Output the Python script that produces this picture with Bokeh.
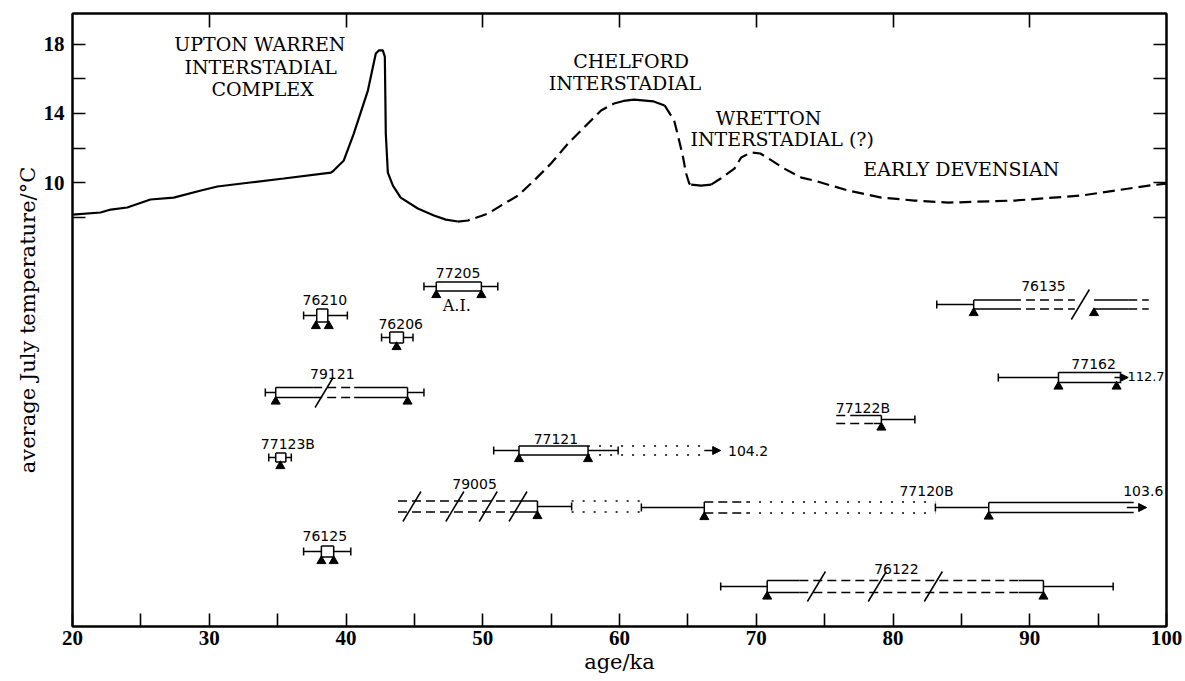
from bokeh.plotting import figure
from bokeh.models import Range1d, LinearAxis, FixedTicker, Arrow, NormalHead
from bokeh.core.properties import value
from bokeh.embed import file_html
from bokeh.resources import INLINE

# ---------------- temperature curve (age / ka, average July temperature / degC) -------------
upton_age = [20.0, 22.05, 22.8, 24.0, 25.7, 27.4, 29.4, 30.6, 33.0, 35.45, 38.9, 39.1, 39.84,
             40.57, 41.6, 42.18, 42.4, 42.69, 42.84, 42.91, 43.06, 43.43, 44.0, 45.25, 46.43,
             47.3, 48.18]
upton_temp = [8.17, 8.29, 8.46, 8.58, 9.04, 9.15, 9.56, 9.79, 10.02, 10.25, 10.59, 10.71, 11.29,
              12.84, 15.32, 17.45, 17.63, 17.63, 17.28, 12.84, 10.59, 9.84, 9.15, 8.52, 8.12,
              7.88, 7.77]
rise_age = [48.18, 48.92, 50.38, 51.33, 52.58, 53.75, 54.99, 56.24, 57.4, 58.65, 59.6]
rise_temp = [7.77, 7.83, 8.23, 8.69, 9.27, 10.13, 11.11, 12.27, 13.19, 14.17, 14.57]
chelford_age = [59.6, 60.3, 61.07, 62.5, 63.3]
chelford_temp = [14.57, 14.72, 14.8, 14.69, 14.46]
fall_age = [63.3, 64.0, 64.36, 64.65, 64.87, 65.1, 65.24]
fall_temp = [14.46, 13.59, 12.44, 11.46, 10.54, 9.96, 9.9]
trough_age = [65.24, 65.97, 66.7]
trough_temp = [9.9, 9.84, 9.9]
late_age = [66.7, 67.4, 68.4, 68.9, 69.6, 70.3, 70.9, 72.05, 73.3, 74.25, 76.7, 79.15, 81.57,
            84.05, 88.9, 93.8, 98.7, 100.0]
late_temp = [9.9, 10.25, 10.82, 11.46, 11.75, 11.69, 11.4, 10.82, 10.3, 10.13, 9.56, 9.15, 8.98,
             8.86, 8.98, 9.27, 9.84, 9.96]

# ---------------- dated samples (ages in ka) ----------------
sample_label = ["76210", "77205", "76206", "79121", "77123B", "77121", "79005", "",
                "77120B", "76135", "77162", "77122B", "76125", "76122"]
whisker_lo = [36.9, 45.7, 42.6, 34.1, 34.35, 50.8, 43.8, 61.6, 83.1, 83.2, 87.7, 75.85, 36.9, 67.4]
box_lo = [37.86, 46.6, 43.2, 34.86, 34.86, 52.65, 43.8, 66.2, 87.0, 85.9, 92.1, 75.85, 38.2, 70.8]
box_hi = [38.67, 49.9, 44.2, 44.5, 35.6, 57.7, 54.0, 69.4, 97.6, 98.7, 96.7, 79.15, 39.1, 91.0]
whisker_hi = [40.1, 51.1, 44.9, 45.7, 36.0, 59.9, 56.5, 69.4, 97.6, 98.7, 96.7, 81.6, 40.35, 96.1]
left_closed = [True, True, True, True, True, True, False, True, True, True, True, False, True, True]
right_closed = [True, True, True, True, True, True, True, False, False, False, False, True, True, True]
plain_box = [True, True, True, False, True, True, False, False, True, False, True, False, True, False]
dates = [[37.8, 38.74], [46.6, 49.9], [43.7], [34.86, 44.5], [35.2], [52.65, 57.7], [54.0],
         [66.2], [87.0], [85.9, 94.7], [92.1, 96.35], [79.15], [38.2, 39.1], [70.8, 91.0]]
# broken box outlines: (sample index, from, to, side, style)
box_parts = [
    (3, 34.86, 37.6, "both", "solid"), (3, 37.6, 40.6, "both", "dash"), (3, 40.6, 44.5, "both", "solid"),
    (6, 43.8, 52.6, "both", "dash"), (6, 52.6, 54.0, "both", "solid"),
    (7, 66.2, 69.4, "both", "dash"),
    (9, 85.9, 88.7, "both", "solid"), (9, 88.7, 93.3, "both", "dash"),
    (9, 94.7, 97.2, "both", "solid"), (9, 97.2, 98.7, "both", "dash"),
    (11, 75.85, 77.45, "top", "dash"), (11, 77.45, 79.15, "top", "solid"),
    (11, 75.85, 78.6, "bottom", "dash"), (11, 78.6, 79.15, "bottom", "solid"),
    (13, 70.8, 73.15, "both", "solid"), (13, 73.15, 89.2, "both", "dash"), (13, 89.2, 91.0, "both", "solid"),
]
# dotted extensions: (sample index, from, to)
dotted_parts = [(5, 57.7, 66.2), (6, 56.5, 61.6), (7, 69.4, 83.1)]
# age-scale breaks (slashes): (sample index, age)
breaks = [(3, 38.4), (6, 44.82), (6, 47.96), (6, 50.4), (6, 52.58), (9, 93.7),
          (13, 74.4), (13, 78.85), (13, 82.95)]
# open-ended ages: (sample index, from, to, value text)
open_ends = [(5, 66.2, 67.4, "104.2"), (8, 97.1, 98.55, "103.6"), (10, 96.2, 97.2, "112.7")]

# ---------------- layout (positions on the sample panel, px from frame top) ----------------
row_pos = [302, 273, 324, 379, 444, 437, 493, 494, 494, 291, 364, 406, 538, 573]
box_half = [6.5, 4.5, 5.5, 5, 4.5, 4.5, 5.5, 5.5, 5, 4.5, 5, 4, 5.5, 6]
label_x = [38.45, 48.2, 44.0, 39.0, 35.75, 55.35, 49.4, None, 82.45, 91.0, 94.67, 77.8, 38.45, 80.25]
label_row = [286, 259, 310, 360, 430, 425, 470, None, 477, 272, 350, 394, 522, 555]
value_pos = [(69.4, 437), (98.3, 477), (98.5, 363)]
value_size = ["14px", "14px", "13px"]

period_text = ["UPTON WARREN", "INTERSTADIAL", "COMPLEX", "CHELFORD", "INTERSTADIAL",
               "WRETTON", "INTERSTADIAL (?)", "EARLY DEVENSIAN"]
period_x = [33.7, 33.76, 33.9, 60.85, 60.4, 70.9, 71.9, 85.0]
period_y = [18.03, 16.65, 15.38, 17.05, 15.78, 13.76, 12.5, 10.82]

# ---------------- figure ----------------
p = figure(width=1185, height=681, x_range=Range1d(20, 100), y_range=Range1d(-15.57, 19.76),
           output_backend="svg", toolbar_location=None,
           min_border_left=72, min_border_right=19, min_border_top=13, min_border_bottom=55,
           background_fill_color="white", border_fill_color="white",
           outline_line_color="black", outline_line_width=2)
p.xgrid.visible = False
p.ygrid.visible = False
p.extra_y_ranges = {"rows": Range1d(start=613, end=0)}

TICK_FONT = "Liberation Serif"

def style_axis(ax, tick_len):
    ax.axis_line_color = "black"
    ax.axis_line_width = 2
    ax.major_tick_in = tick_len
    ax.major_tick_out = 0
    ax.minor_tick_in = tick_len
    ax.minor_tick_out = 0
    ax.major_tick_line_width = 1.6
    ax.minor_tick_line_width = 1.6
    ax.major_tick_line_color = "black"
    ax.minor_tick_line_color = "black"
    ax.major_label_text_font = TICK_FONT
    ax.major_label_text_font_style = "bold"
    ax.major_label_text_font_size = "21px"
    ax.major_label_text_color = "black"

xb = p.xaxis[0]
xb.ticker = FixedTicker(ticks=[20, 30, 40, 50, 60, 70, 80, 90, 100],
                        minor_ticks=[25, 35, 45, 55, 65, 75, 85, 95])
style_axis(xb, 13)
xb.major_label_standoff = 4
xb.axis_label = "age/ka"
xb.axis_label_text_font = "DejaVu Serif"
xb.axis_label_text_font_style = "normal"
xb.axis_label_text_font_size = "21px"
xb.axis_label_text_color = "#000000"
xb.axis_label_standoff = 2

yl = p.yaxis[0]
yl.ticker = FixedTicker(ticks=[10, 14, 18], minor_ticks=[8, 12, 16])
style_axis(yl, 13)
yl.major_label_standoff = 8
yl.axis_label = "average July temperature/°C"
yl.axis_label_text_font = "DejaVu Serif"
yl.axis_label_text_font_style = "normal"
yl.axis_label_text_font_size = "21px"
yl.axis_label_text_color = "#000000"
yl.axis_label_standoff = 1

# top and right frame ticks (no labels)
xt = LinearAxis(ticker=FixedTicker(ticks=[], minor_ticks=[30, 40, 50, 60, 70, 80, 90]))
style_axis(xt, 14)
p.add_layout(xt, "above")

yr = LinearAxis(ticker=FixedTicker(ticks=[], minor_ticks=[8, 10, 12, 14, 16, 18]))
style_axis(yr, 13)
p.add_layout(yr, "right")

# curve
DASH_CURVE = "12 6"
p.line(upton_age, upton_temp, line_color="black", line_width=2.2)
p.line(rise_age, rise_temp, line_color="black", line_width=2.2, line_dash=DASH_CURVE)
p.line(chelford_age, chelford_temp, line_color="black", line_width=2.2)
p.line(fall_age, fall_temp, line_color="black", line_width=2.2, line_dash=DASH_CURVE)
p.line(trough_age, trough_temp, line_color="black", line_width=2.2)
p.line(late_age, late_temp, line_color="black", line_width=2.2, line_dash=DASH_CURVE)

p.text(x=period_x, y=period_y, text=period_text, text_font=value("DejaVu Serif"),
       text_font_size="19px", text_align="center", text_baseline="middle", text_color="black")

# sample symbols
segs = {"solid": dict(x0=[], y0=[], x1=[], y1=[]),
        "dash": dict(x0=[], y0=[], x1=[], y1=[]),
        "dot": dict(x0=[], y0=[], x1=[], y1=[])}

def seg(style, x0, y0, x1, y1):
    s = segs[style]
    s["x0"].append(x0); s["y0"].append(y0); s["x1"].append(x1); s["y1"].append(y1)

CAP = 4
tri_x, tri_y = [], []
for i in range(len(sample_label)):
    r, h = row_pos[i], box_half[i]
    if whisker_lo[i] < box_lo[i]:
        seg("solid", whisker_lo[i], r, box_lo[i], r)
        seg("solid", whisker_lo[i], r - CAP, whisker_lo[i], r + CAP)
    if whisker_hi[i] > box_hi[i]:
        seg("solid", box_hi[i], r, whisker_hi[i], r)
        seg("solid", whisker_hi[i], r - CAP, whisker_hi[i], r + CAP)
    if left_closed[i]:
        seg("solid", box_lo[i], r - h, box_lo[i], r + h)
    if right_closed[i]:
        seg("solid", box_hi[i], r - h, box_hi[i], r + h)
    if plain_box[i]:
        seg("solid", box_lo[i], r - h, box_hi[i], r - h)
        seg("solid", box_lo[i], r + h, box_hi[i], r + h)
    for d in dates[i]:
        tri_x.append(d)
        tri_y.append(r + h + 4)

for i, a, b, side, style in box_parts:
    r, h = row_pos[i], box_half[i]
    if side in ("both", "top"):
        seg(style, a, r - h, b, r - h)
    if side in ("both", "bottom"):
        seg(style, a, r + h, b, r + h)

for i, a, b in dotted_parts:
    r, h = row_pos[i], box_half[i]
    seg("dot", a, r - h, b, r - h)
    seg("dot", a, r + h, b, r + h)

SL_DX, SL_DY = 0.66, 15
for i, x in breaks:
    r = row_pos[i]
    seg("solid", x - SL_DX, r + SL_DY, x + SL_DX, r - SL_DY)

p.segment(**segs["solid"], line_color="black", line_width=1.5, y_range_name="rows")
p.segment(**segs["dash"], line_color="black", line_width=1.5, line_dash="9 5", y_range_name="rows")
p.segment(**segs["dot"], line_color="black", line_width=1.6, line_dash="2 9", y_range_name="rows")

p.scatter(tri_x, tri_y, marker="triangle", size=9, fill_color="black", line_color="black",
          y_range_name="rows")

for i, a, b, txt in open_ends:
    r = row_pos[i]
    p.add_layout(Arrow(x_start=a, y_start=r, x_end=b, y_end=r, line_width=1.5, line_color="black",
                       end=NormalHead(size=8, fill_color="black", line_color="black"),
                       y_range_name="rows"))

lx = [x for x in label_x if x is not None]
ly = [y for y in label_row if y is not None]
lt = [t for t, x in zip(sample_label, label_x) if x is not None]
p.text(x=lx, y=ly, text=lt, text_font=value("DejaVu Sans"), text_font_size="14px",
       text_align="center", text_baseline="middle", text_color="black", y_range_name="rows")
for (vx, vy), vs, o in zip(value_pos, value_size, open_ends):
    p.text(x=[vx], y=[vy], text=[o[3]], text_font=value("DejaVu Sans"), text_font_size=vs,
           text_align="center", text_baseline="middle", text_color="black", y_range_name="rows")
p.text(x=[48.1], y=[292], text=["A.I."], text_font=value("DejaVu Serif"), text_font_size="16px",
       text_align="center", text_baseline="middle", text_color="black", y_range_name="rows")

open("out.html", "w").write(file_html(p, INLINE))
